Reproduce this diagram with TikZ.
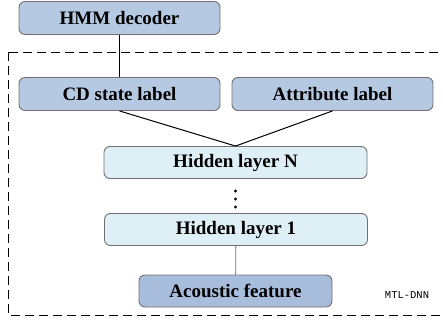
\documentclass[tikz,border=0pt]{standalone}
\usepackage{fontspec}
\setmainfont{Liberation Serif}
\newfontfamily\monofont{Liberation Mono}
\usepackage{xcolor}
\usetikzlibrary{positioning}

\definecolor{labelblue}{RGB}{182,201,226}
\definecolor{inputblue}{RGB}{168,189,220}
\definecolor{hiddencyan}{RGB}{222,240,246}
\definecolor{boxedge}{RGB}{112,112,112}

\tikzset{
  layerbox/.style={draw=boxedge, line width=0.9pt, rounded corners=6pt, inner sep=0pt,
    font=\fontsize{19}{19}\selectfont\bfseries},
  labelbox/.style={layerbox, fill=labelblue, minimum width=201pt, minimum height=33pt},
  hiddenbox/.style={layerbox, fill=hiddencyan, minimum width=263pt, minimum height=32pt},
  inputbox/.style={layerbox, fill=inputblue, minimum width=193pt, minimum height=32pt},
}

\begin{document}
\begin{tikzpicture}[x=1pt,y=-1pt]
        \useasboundingbox (0,0) rectangle (443,320);
        \draw[dashed, dash pattern=on 9pt off 5pt, line width=0.9pt] (8,52) rectangle (450,315);
        \node[labelbox] (hmm) at (119.5,18) {HMM decoder};
        \node[labelbox] (cd) at (119.5,94) {CD state label};
        \node[labelbox] (attr) at (332.5,94) {Attribute label};
        \node[hiddenbox] (hidN) at (235.5,162.5) {Hidden layer N};
        \node[hiddenbox] (hid1) at (236,229.5) {Hidden layer 1};
        \node[inputbox] (feat) at (235.5,291) {Acoustic feature};
        \node[font=\monofont\fontsize{10.5}{10.5}\selectfont] (mtl) at (407,295) {MTL-DNN};
        \foreach \y in {191,199,207}
            \fill (235.5,\y) circle (1.7pt);
        \draw[line width=1pt] (hmm) -- (cd);
        \draw[line width=1pt] (cd.south) -- (hidN.north) -- (attr.south);
        \draw[boxedge, line width=0.8pt] (hid1) -- (feat);
\end{tikzpicture}
\end{document}
